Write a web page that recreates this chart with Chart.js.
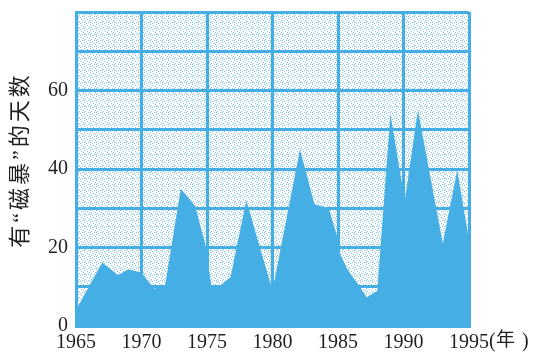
<!DOCTYPE html>
<html>
<head>
<meta charset="utf-8">
<script src="https://cdn.jsdelivr.net/npm/chart.js@4/dist/chart.umd.min.js"></script>
<style>
  html, body { margin: 0; padding: 0; background: #fff; }
  #wrap { width: 533px; height: 353px; position: relative; }
</style>
</head>
<body>
<div id="wrap"><canvas id="storm"></canvas></div>
<script>
// anni (vertici del profilo) e giorni con "tempesta magnetica"
const years = [1965, 1967, 1968.2, 1969, 1970, 1970.6, 1971, 1971.8, 1973, 1974.1, 1974.85,
  1975.35, 1976, 1976.8, 1978, 1980, 1982.1, 1983.2, 1984.3, 1985, 1985.2, 1985.7,
  1986.7, 1987.2, 1988, 1989, 1990.1, 1991.1, 1993, 1994.1, 1995];
const stormDays = [4, 16.2, 13, 14.4, 13.6, 11, 9.5, 10.3, 35, 30.5, 21,
  9.8, 10.2, 12.5, 32, 9, 45, 31, 30, 22, 18, 14.5,
  9.8, 7.3, 9, 54, 32, 55, 21, 39.7, 22];
const yTicksShown = [0, 20, 40, 60];
const yTitle = '有“磁暴”的天数';

const BLUE = '#45aee5';
const INK = '#231f20';
const SERIF = '"Liberation Serif", "Noto Sans CJK SC", serif';

// --- trama a puntini per lo sfondo dell'area del grafico ---
function dotPattern(ctx) {
  const tile = document.createElement('canvas');
  tile.width = 6; tile.height = 6;
  const t = tile.getContext('2d');
  t.fillStyle = '#ffffff';
  t.fillRect(0, 0, 6, 6);
  t.fillStyle = '#7cc6ec';
  [[0, 0], [3, 1], [1, 3], [4, 4], [5, 2], [2, 5], [0, 4]].forEach(([x, y]) => t.fillRect(x, y, 1, 1));
  return ctx.createPattern(tile, 'repeat');
}

const areaBg = {
  id: 'areaBg',
  beforeDraw(chart) {
    const { ctx, chartArea: a } = chart;
    ctx.save();
    ctx.fillStyle = dotPattern(ctx);
    ctx.fillRect(a.left, a.top, a.right - a.left, a.bottom - a.top);
    ctx.restore();
  },
  afterDraw(chart) {
    const { ctx } = chart;
    ctx.save();
    ctx.fillStyle = INK;
    ctx.textBaseline = 'middle';
    ctx.textAlign = 'left';
    // unita' dell'asse x: (年)
    ctx.font = '20px ' + SERIF;
    ctx.fillText('(', 489, 342);
    ctx.fillText(')', 522, 342);
    ctx.font = '19px ' + SERIF;
    ctx.fillText('年', 496, 341);
    // titolo asse y
    ctx.translate(21, 160);
    ctx.rotate(-Math.PI / 2);
    ctx.textAlign = 'center';
    ctx.font = '22px ' + SERIF;
    ctx.letterSpacing = '3px';
    ctx.fillText(yTitle, 0, 0);
    ctx.restore();
  }
};

new Chart(document.getElementById('storm'), {
  type: 'line',
  data: {
    datasets: [{
      data: years.map((y, i) => ({ x: y, y: stormDays[i] })),
      fill: 'origin',
      backgroundColor: BLUE,
      borderWidth: 0,
      pointRadius: 0,
      tension: 0
    }]
  },
  options: {
    responsive: true,
    maintainAspectRatio: false,
    animation: false,
    layout: { padding: { top: 12, right: 64, bottom: 0, left: 0 } },
    plugins: { legend: { display: false }, tooltip: { enabled: false } },
    scales: {
      x: {
        type: 'linear',
        min: 1965, max: 1995,
        ticks: {
          stepSize: 5,
          autoSkip: false,
          maxRotation: 0,
          padding: 5,
          color: INK,
          font: { family: SERIF, size: 20 },
          callback: v => String(v)
        },
        grid: { color: BLUE, lineWidth: 3, drawTicks: false },
        border: { color: BLUE, width: 3 },
        afterFit: s => { s.height = 27; }
      },
      y: {
        min: 0, max: 80,
        ticks: {
          stepSize: 10,
          padding: 8,
          color: INK,
          font: { family: SERIF, size: 20 },
          callback: v => yTicksShown.includes(v) ? String(v) : ''
        },
        grid: { color: BLUE, lineWidth: 3, drawTicks: false },
        border: { color: BLUE, width: 3 },
        afterFit: s => { s.width = 76; s.paddingTop = 0; s.paddingBottom = 0; }
      }
    }
  },
  plugins: [areaBg]
});
</script>
</body>
</html>
